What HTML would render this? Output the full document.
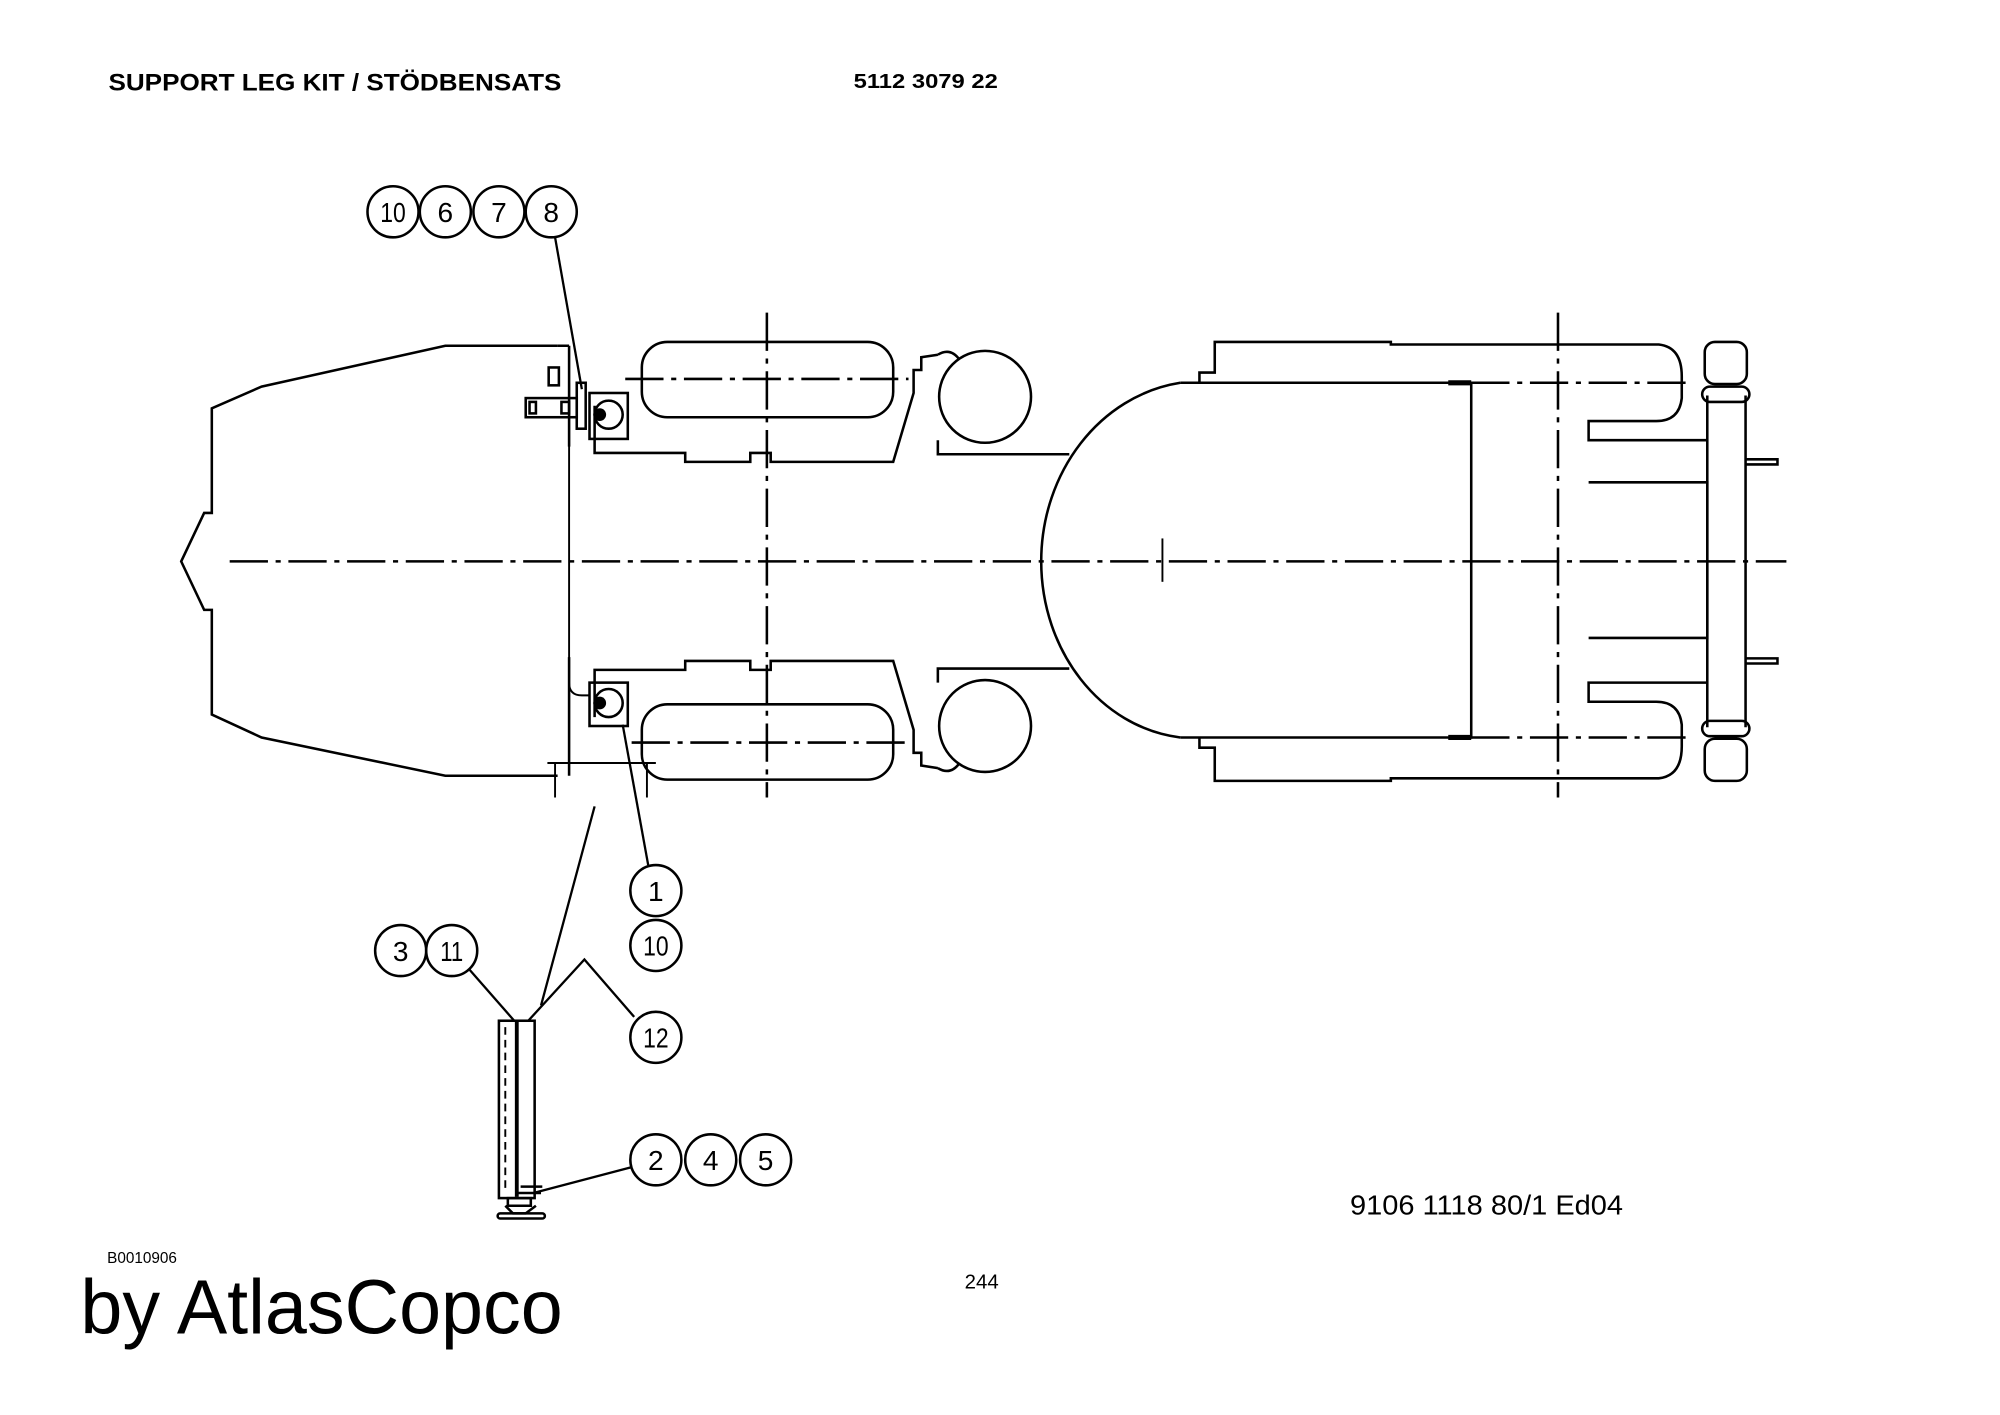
<!DOCTYPE html>
<html><head><meta charset="utf-8"><style>
html,body{margin:0;padding:0;background:#fff;}
svg{display:block;}
text{font-family:"Liberation Sans",sans-serif;fill:#000;}
.b text{font-size:22px;text-anchor:middle;}
</style></head><body>
<svg width="2000" height="1415" viewBox="0 0 1567.4 1109" preserveAspectRatio="none" xmlns="http://www.w3.org/2000/svg">
<rect width="1567.4" height="1109" fill="#fff"/>
<text x="85" y="71" font-size="19" font-weight="bold" textLength="355" lengthAdjust="spacingAndGlyphs">SUPPORT LEG KIT / STÖDBENSATS</text>
<text x="669" y="69" font-size="16" font-weight="bold" textLength="113" lengthAdjust="spacingAndGlyphs">5112 3079 22</text>
<text x="1058" y="952" font-size="22" textLength="214" lengthAdjust="spacingAndGlyphs">9106 1118 80/1  Ed04</text>
<text x="84" y="990" font-size="12">B0010906</text>
<text x="756" y="1010" font-size="16">244</text>
<text x="63" y="1045" font-size="60" textLength="378" lengthAdjust="spacingAndGlyphs">by AtlasCopco</text>

<g fill="none" stroke="#000" stroke-width="2">
<path d="M437 271 L349 271 L205 303 L166 320 L166 402 L160 402 L142 440 L160 478 L166 478 L166 560 L205 578 L349 608 L437 608"/>
<path d="M446 271 L446 350 M446 515 L446 608 M437 271 L446 271"/>
<path d="M446 300 L446 535 Q446 545 456 545 L462 545" stroke-width="1.5"/>
<rect x="503" y="268" width="197" height="59" rx="20"/>
<rect x="503" y="552" width="197" height="59" rx="20"/>
<path d="M466 318 L466 355 L537 355 L537 362 L588 362 L588 355 L604 355 L604 362 L700 362 L716 308 L716 290 L722 290 L722 280 L735 278"/>
<path d="M466 562 L466 525 L537 525 L537 518 L588 518 L588 525 L604 525 L604 518 L700 518 L716 572 L716 590 L722 590 L722 600 L735 602"/>
<circle cx="772" cy="311" r="36"/>
<circle cx="772" cy="569" r="36"/>
<path d="M735 278 Q745 272 752 282 M735 345 L735 356 L838 356"/>
<path d="M735 602 Q745 608 752 598 M735 535 L735 524 L838 524"/>
<path d="M925 300 C862 310 816 370 816 440 C816 510 862 570 925 578"/>
<path d="M925 300 L1153 300 L1153 578 L925 578"/>
<path d="M940 300 L940 292 L952 292 L952 268 L1090 268 L1090 270 L1300 270 Q1318 272 1318 295 L1318 312 Q1316 330 1298 330 L1245 330 L1245 345 L1338 345"/>
<path d="M940 578 L940 586 L952 586 L952 612 L1090 612 L1090 610 L1300 610 Q1318 608 1318 585 L1318 568 Q1316 550 1298 550 L1245 550 L1245 535 L1338 535"/>
<path d="M1245 378 L1338 378 L1338 500 L1245 500"/>
<path d="M1338 310 L1338 570 M1368 310 L1368 570"/>
<path d="M1368 360 L1393 360 L1393 364 L1368 364 M1368 516 L1393 516 L1393 520 L1368 520"/>
<rect x="1336" y="268" width="33" height="33" rx="8"/>
<rect x="1334" y="303" width="37" height="12" rx="6"/>
<rect x="1336" y="579" width="33" height="33" rx="8"/>
<rect x="1334" y="565" width="37" height="12" rx="6"/>
<path d="M1135 300 L1153 300 M1135 578 L1153 578" stroke-width="4"/>
<path d="M911 422 L911 456" stroke-width="1.5"/>
</g>
<g fill="none" stroke="#000" stroke-width="2" stroke-dasharray="30 6 4 6">
<path d="M180 440 L1400 440"/>
<path d="M490 297 L712 297 M495 582 L712 582"/>
<path d="M1153 300 L1325 300 M1153 578 L1325 578"/>
<path d="M601 245 L601 625 M1221 245 L1221 625"/>
</g>
<g fill="none" stroke="#000" stroke-width="2">
<rect x="430" y="288" width="8" height="14"/>
<rect x="412" y="312" width="40" height="15"/>
<rect x="415" y="315" width="5" height="9"/>
<rect x="440" y="315" width="6" height="9"/>
<rect x="452" y="300" width="7" height="36"/>
<rect x="462" y="308" width="30" height="36"/>
<circle cx="477" cy="325" r="11"/>
<rect x="462" y="535" width="30" height="34"/>
<circle cx="477" cy="551" r="11"/>
<path d="M429 598 L514 598 M435 598 L435 625 M507 598 L507 625" stroke-width="1.5"/>
</g>
<circle cx="470" cy="325" r="5" fill="#000"/><circle cx="470" cy="551" r="5" fill="#000"/>
<g fill="none" stroke="#000" stroke-width="1.8">
<path d="M435 186 L456 305"/>
<path d="M466 632 L424 788"/>
<path d="M488 568 L508 678"/>
<path d="M368 760 L403 800"/>
<path d="M497 797 L458 752 L414 800"/>
<path d="M494 915 L418 935"/>
</g>
<g fill="none" stroke="#000" stroke-width="2">
<rect x="391" y="800" width="28" height="139"/>
<path d="M405 800 L405 938" stroke-width="3"/>
<path d="M396 805 L396 935" stroke-dasharray="6 4" stroke-width="1.5"/>
<path d="M398 939 L416 939 L416 945 L398 945 Z M396 945 L402 951 L412 951 L420 945"/>
<rect x="390" y="951" width="37" height="4" rx="2"/>
<path d="M408 930 L425 930 M405 935 L424 935"/>
</g>
<g class="b" fill="none" stroke="#000" stroke-width="2">
<circle cx="308" cy="166" r="20"/><circle cx="349" cy="166" r="20"/><circle cx="391" cy="166" r="20"/><circle cx="432" cy="166" r="20"/>
<circle cx="514" cy="698" r="20"/><circle cx="514" cy="741" r="20"/>
<circle cx="314" cy="745" r="20"/><circle cx="354" cy="745" r="20"/>
<circle cx="514" cy="813" r="20"/>
<circle cx="514" cy="909" r="20"/><circle cx="557" cy="909" r="20"/><circle cx="600" cy="909" r="20"/>
</g>
<g class="b">
<text x="308" y="174" textLength="20" lengthAdjust="spacingAndGlyphs">10</text>
<text x="349" y="174">6</text><text x="391" y="174">7</text><text x="432" y="174">8</text>
<text x="514" y="706">1</text>
<text x="514" y="749" textLength="20" lengthAdjust="spacingAndGlyphs">10</text>
<text x="314" y="753">3</text>
<text x="354" y="753" textLength="18" lengthAdjust="spacingAndGlyphs">11</text>
<text x="514" y="821" textLength="20" lengthAdjust="spacingAndGlyphs">12</text>
<text x="514" y="917">2</text><text x="557" y="917">4</text><text x="600" y="917">5</text>
</g>
</svg>
</body></html>
